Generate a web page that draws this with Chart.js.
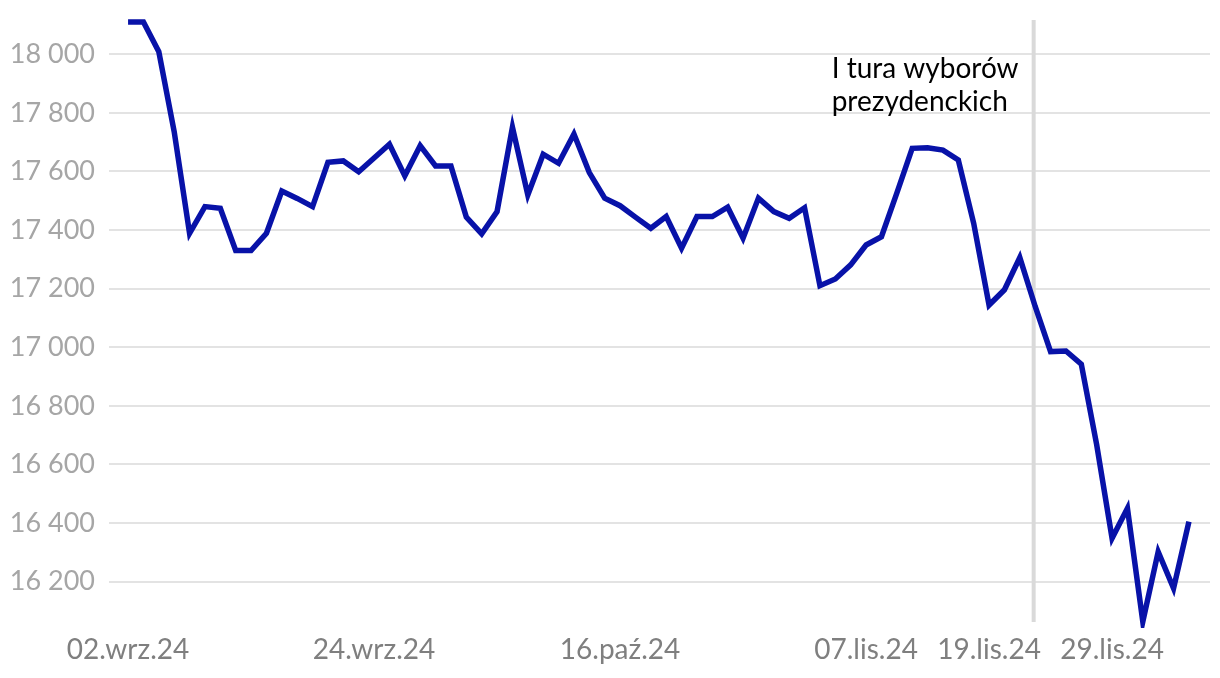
<!DOCTYPE html>
<html>
<head>
<meta charset="utf-8">
<script src="https://cdn.jsdelivr.net/npm/chart.js@4"></script>
<style>
  body { margin: 0; background: #fff; }
  #wrap { width: 1220px; height: 678px; position: relative; }
</style>
</head>
<body>
<div id="wrap"><canvas id="chart"></canvas></div>
<script>
// daily values, 02.wrz.24 -> 06.gru.24 (70 sessions)
const values = [
  18110, 18110, 18009, 17736, 17389, 17480, 17474, 17330, 17330, 17389,
  17533, 17508, 17480, 17631, 17636, 17599, 17646, 17693, 17585, 17688,
  17619, 17619, 17444, 17387, 17463, 17751, 17520, 17659, 17628, 17728,
  17596, 17509, 17483, 17444, 17406, 17446, 17338, 17446, 17446, 17478,
  17372, 17509, 17463, 17440, 17476, 17210, 17233, 17281, 17349, 17377,
  17526, 17679, 17681, 17673, 17639, 17423, 17144, 17196, 17306, 17139,
  16985, 16987, 16942, 16667, 16348, 16450, 16063, 16302, 16177, 16405
];

// x-axis label positions (session index) and their text
const tickIndex = [0, 16, 32, 48, 56, 64];
const tickLabels = ["02.wrz.24", "24.wrz.24", "16.paź.24", "07.lis.24", "19.lis.24", "29.lis.24"];

// y-axis tick values
const yTicks = [16200, 16400, 16600, 16800, 17000, 17200, 17400, 17600, 17800, 18000];

// election marker (session index) and its caption
const eventIndex = 58.9;
const eventText = ["I tura wyborów", "prezydenckich"];

const points = values.map((v, i) => ({ x: i, y: v }));

function fmt(v) {
  return String(v).replace(/\B(?=(\d{3})+(?!\d))/g, " ");
}

// vertical line + caption
const eventMarker = {
  id: "eventMarker",
  beforeDatasetsDraw(chart) {
    const { ctx, chartArea, scales } = chart;
    const x = scales.x.getPixelForValue(eventIndex);
    ctx.save();
    ctx.strokeStyle = "#d9d9d9";
    ctx.lineWidth = 4;
    ctx.beginPath();
    ctx.moveTo(x, chartArea.top);
    ctx.lineTo(x, chartArea.bottom);
    ctx.stroke();

    ctx.fillStyle = "#000";
    ctx.font = "28px Lato";
    ctx.textAlign = "left";
    ctx.textBaseline = "middle";
    ctx.fillText(eventText[0], x - 202, 69);
    ctx.fillText(eventText[1], x - 202, 102);
    ctx.restore();
  }
};

new Chart(document.getElementById("chart"), {
  type: "line",
  data: {
    datasets: [{
      data: points,
      borderColor: "#0812a8",
      borderWidth: 5.5,
      pointRadius: 0,
      tension: 0,
      fill: false,
      clip: 6
    }]
  },
  options: {
    responsive: true,
    maintainAspectRatio: false,
    animation: false,
    layout: { padding: { top: 20, right: 10, left: 0, bottom: 0 } },
    plugins: {
      legend: { display: false },
      tooltip: { enabled: false }
    },
    scales: {
      x: {
        type: "linear",
        min: -1.24,
        max: 70.37,
        grid: { display: false, drawTicks: false },
        border: { display: false },
        afterBuildTicks: (s) => { s.ticks = tickIndex.map(v => ({ value: v })); },
        afterFit: (s) => { s.height = 56; s.paddingLeft = 0; s.paddingRight = 0; },
        ticks: {
          autoSkip: false,
          maxRotation: 0,
          padding: 11,
          color: "#7f7f7f",
          font: { family: "Lato", size: 28 },
          callback: (v) => tickLabels[tickIndex.indexOf(v)]
        }
      },
      y: {
        min: 16062,
        max: 18117,
        grid: { color: "#e3e3e3", lineWidth: 2, drawTicks: false },
        border: { display: false },
        afterBuildTicks: (s) => { s.ticks = yTicks.map(v => ({ value: v })); },
        afterFit: (s) => { s.width = 109; s.paddingTop = 0; s.paddingBottom = 0; },
        ticks: {
          padding: 14,
          color: "#a6a6a6",
          font: { family: "Lato", size: 27 },
          callback: (v) => fmt(v)
        }
      }
    }
  },
  plugins: [eventMarker]
});
</script>
</body>
</html>
